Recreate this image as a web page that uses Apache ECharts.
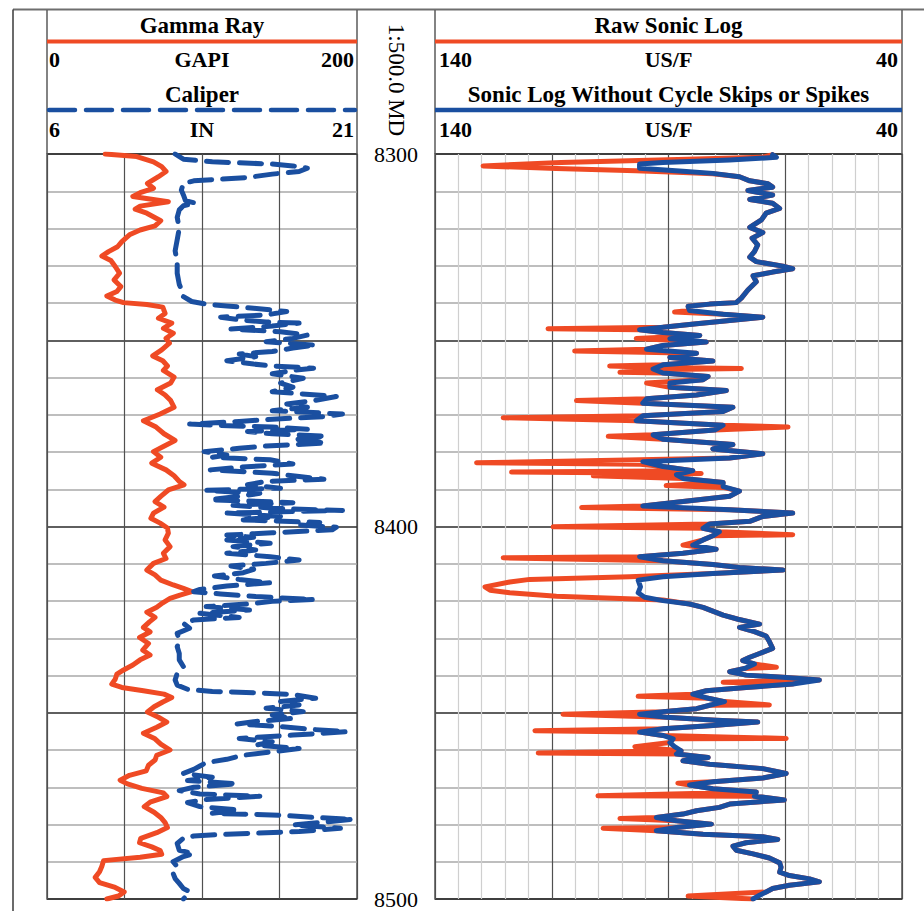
<!DOCTYPE html>
<html>
<head>
<meta charset="utf-8">
<script src="https://cdn.jsdelivr.net/npm/echarts/dist/echarts.min.js"></script>
<style>
html,body{margin:0;padding:0;background:#ffffff;}
#chart{width:924px;height:911px;}
</style>
</head>
<body>
<div id="chart"></div>
<script>
// ---------- data (depth in ft, value in curve units) ----------
const depthRange = [8300, 8500];
const depthLabels = [8300, 8400, 8500];
const gammaRayScale = [0, 200];
const caliperScale = [6, 21];
const sonicScale = [140, 40];

const trackTitles = ['Gamma Ray', 'Caliper', 'Raw Sonic Log', 'Sonic Log Without Cycle Skips or Spikes'];
const trackUnits = ['GAPI', 'IN', 'US/F', 'US/F'];
const depthTitle = '1:500.0 MD';

// [depth, GAPI]
const gammaRay = [
[8300.0,37.6],[8300.7,57.9],[8302.1,68.7],[8303.4,74.0],[8304.7,76.8],[8306.1,71.9],[8307.9,64.8],[8309.2,68.7],
[8310.4,60.1],[8311.4,55.4],[8312.8,78.3],[8314.0,60.1],[8314.8,56.9],[8315.9,64.4],[8317.9,73.4],[8319.3,69.7],
[8320.4,60.1],[8321.7,53.2],[8323.5,48.3],[8324.9,45.5],[8326.2,39.7],[8327.4,35.4],[8328.6,41.2],[8330.2,44.0],
[8332.0,46.8],[8333.8,43.3],[8335.6,47.6],[8336.9,45.1],[8338.1,38.6],[8339.2,44.0],[8339.9,49.4],[8340.4,64.4],
[8341.1,74.7],[8342.8,76.2],[8344.1,71.9],[8345.4,80.5],[8346.8,75.1],[8348.1,81.5],[8349.5,76.8],[8350.8,79.0],
[8352.6,74.0],[8354.2,68.2],[8355.5,74.7],[8356.9,77.7],[8358.1,75.1],[8359.9,82.0],[8361.5,79.8],[8363.3,71.2],
[8364.7,76.2],[8366.2,79.8],[8368.0,82.0],[8369.8,73.0],[8371.6,62.2],[8373.3,70.4],[8375.1,75.5],[8376.9,82.6],
[8378.5,75.1],[8379.9,68.7],[8381.4,73.4],[8383.0,67.6],[8384.8,76.8],[8386.4,82.0],[8387.9,85.4],[8388.8,88.4],
[8390.2,78.3],[8391.9,73.4],[8393.3,69.7],[8394.8,75.5],[8396.4,68.7],[8397.8,67.0],[8399.1,73.0],[8400.4,77.7],
[8401.8,78.3],[8403.6,76.2],[8405.4,79.4],[8407.2,75.1],[8408.6,76.8],[8409.9,68.7],[8411.7,64.4],[8413.0,69.7],
[8414.4,73.4],[8415.7,81.5],[8416.6,88.0],[8417.5,93.4],[8418.4,85.8],[8419.3,79.4],[8420.5,74.7],[8421.7,70.8],
[8423.0,64.4],[8424.4,69.7],[8425.6,66.1],[8427.1,62.2],[8428.3,66.5],[8429.8,59.7],[8431.4,65.5],[8433.2,61.8],
[8434.5,66.5],[8435.8,60.1],[8437.2,55.4],[8438.5,49.4],[8439.6,45.1],[8441.0,44.0],[8442.3,41.8],[8443.2,48.3],
[8444.1,62.2],[8445.0,75.5],[8445.9,80.5],[8447.1,74.7],[8448.4,69.1],[8449.8,64.8],[8451.2,71.9],[8452.5,77.3],
[8453.9,70.8],[8455.5,62.2],[8457.0,69.7],[8458.4,73.4],[8460.0,79.4],[8461.4,70.8],[8462.7,69.7],[8464.1,65.5],
[8465.6,64.0],[8466.8,53.2],[8468.1,47.2],[8469.1,51.9],[8470.3,61.2],[8471.5,75.1],[8472.5,77.3],[8474.0,66.5],
[8475.2,62.7],[8476.7,69.1],[8478.1,73.4],[8479.5,76.2],[8480.8,77.7],[8482.2,70.8],[8483.7,60.5],[8484.9,59.7],
[8486.0,67.6],[8487.0,73.0],[8488.0,74.0],[8488.8,60.1],[8489.7,36.5],[8491.2,35.4],[8492.7,33.9],[8494.2,31.1],
[8495.6,33.9],[8496.9,44.0],[8498.1,49.8],[8499.2,46.1],[8500.0,38.6]
];

// [depth, IN]
const caliper = [
[8300.0,12.2],[8301.4,12.6],[8302.1,14.0],[8302.7,16.9],[8303.2,17.9],[8303.8,18.6],[8304.7,18.2],[8305.4,16.9],
[8306.3,15.7],[8307.2,13.1],[8307.9,12.6],[8309.7,12.5],[8311.0,12.6],[8312.5,12.7],[8313.2,13.2],[8313.9,12.6],
[8315.0,12.4],[8317.0,12.3],[8320.0,12.4],[8323.0,12.3],[8326.0,12.2],[8329.0,12.3],[8332.0,12.3],[8335.0,12.4],
[8337.5,12.6],[8338.3,12.6],[8339.6,13.0],[8340.3,13.7],[8340.8,14.7],[8341.4,16.0],[8342.3,17.6],[8343.2,16.6],
[8343.8,14.4],[8344.5,15.3],[8345.1,16.6],[8345.4,18.2],[8346.2,16.9],[8347.0,14.9],[8347.7,17.3],[8348.6,18.6],
[8349.5,17.9],[8350.4,16.6],[8351.3,19.0],[8352.1,17.9],[8353.0,16.9],[8353.7,15.3],[8354.4,16.1],[8355.5,14.7],
[8356.4,16.0],[8356.9,16.9],[8357.5,18.9],[8358.1,17.9],[8359.0,16.9],[8360.2,18.4],[8361.5,17.3],[8362.6,17.9],
[8363.8,16.9],[8365.1,20.0],[8366.2,18.9],[8367.1,17.6],[8368.0,18.6],[8368.9,16.9],[8369.8,20.3],[8370.5,19.4],
[8371.2,16.9],[8371.8,15.3],[8372.5,12.9],[8372.8,14.0],[8373.3,16.9],[8373.9,18.6],[8374.5,15.7],[8375.1,16.9],
[8375.8,19.5],[8376.7,17.9],[8377.6,19.5],[8378.4,16.6],[8379.0,15.3],[8379.9,13.6],[8380.8,14.7],[8381.4,14.0],
[8382.1,16.8],[8383.2,17.9],[8384.1,15.3],[8384.8,13.9],[8385.7,16.9],[8386.6,18.2],[8387.3,19.4],[8387.9,16.6],
[8388.8,15.7],[8389.7,17.3],[8390.3,13.7],[8391.1,16.3],[8391.9,15.3],[8392.8,13.9],[8393.6,17.9],[8394.3,15.0],
[8395.1,16.9],[8395.7,20.3],[8396.4,14.7],[8397.3,17.3],[8398.2,15.3],[8398.9,19.2],[8399.6,18.2],[8400.2,20.0],
[8400.9,19.8],[8401.7,16.9],[8402.3,14.7],[8402.9,16.0],[8403.6,14.7],[8404.5,16.8],[8405.4,15.0],[8406.3,16.1],
[8407.2,14.7],[8408.1,16.8],[8409.0,18.2],[8409.9,16.6],[8410.6,14.9],[8411.5,16.0],[8412.4,15.5],[8413.3,14.1],
[8414.2,15.3],[8415.1,16.8],[8416.0,14.7],[8416.9,13.4],[8417.5,13.1],[8418.1,14.4],[8418.8,16.1],[8419.6,18.9],
[8420.1,16.9],[8420.8,15.7],[8421.5,13.7],[8422.4,15.8],[8423.3,13.4],[8424.4,15.3],[8425.1,13.1],[8426.0,12.6],
[8427.3,12.9],[8428.7,12.3],[8430.5,12.4],[8432.3,12.3],[8434.1,12.4],[8435.8,12.4],[8437.6,12.6],[8439.4,12.3],
[8441.2,12.2],[8442.6,12.3],[8443.7,12.8],[8444.3,14.0],[8444.6,16.0],[8445.1,17.9],[8446.1,19.0],[8447.0,17.3],
[8447.9,18.2],[8448.8,16.6],[8449.7,18.4],[8450.6,16.9],[8451.5,17.9],[8452.4,16.0],[8453.0,15.2],[8453.7,17.3],
[8454.5,18.9],[8455.1,20.5],[8456.0,17.9],[8456.9,15.3],[8457.8,16.9],[8458.7,16.1],[8459.6,18.2],[8460.5,16.9],
[8461.4,15.5],[8462.5,14.7],[8463.4,13.7],[8464.3,13.4],[8465.2,13.1],[8466.3,12.6],[8467.3,14.0],[8468.2,12.8],
[8469.1,15.2],[8470.0,13.1],[8470.9,12.4],[8471.8,13.4],[8472.4,16.3],[8473.3,13.7],[8474.1,12.8],[8475.2,13.4],
[8476.1,15.3],[8477.0,14.0],[8477.5,17.3],[8478.1,18.9],[8478.6,20.8],[8479.3,19.5],[8480.1,17.9],[8481.0,20.2],
[8481.9,18.2],[8482.6,14.7],[8483.1,13.1],[8483.7,12.6],[8485.1,12.3],[8486.9,12.4],[8487.8,13.1],[8488.6,12.6],
[8490.0,12.1],[8491.3,12.3],[8493.1,12.1],[8494.5,12.2],[8495.8,12.4],[8497.2,12.6],[8498.0,12.9],[8498.9,12.8],
[8500.0,12.6]
];

// [depth, US/F] raw sonic (with cycle skips / spikes)
const rawSonic = [
[8300.2,67.7],[8300.9,70.0],[8301.5,88.0],[8302.3,113.0],[8303.2,129.7],[8303.9,114.0],[8304.5,97.0],[8305.0,86.9],
[8305.3,80.5],[8306.1,74.8],[8307.2,72.6],[8308.0,68.7],[8308.9,67.7],[8309.8,73.0],[8311.0,67.7],[8312.2,72.6],
[8313.2,67.7],[8314.6,66.2],[8315.9,69.1],[8317.7,70.1],[8319.7,72.6],[8321.1,69.8],[8322.6,72.1],[8324.4,70.9],
[8326.2,71.6],[8327.7,72.6],[8328.9,71.2],[8330.1,65.5],[8330.8,63.4],[8331.7,67.7],[8332.7,71.9],[8334.3,71.2],
[8336.5,73.0],[8338.7,74.4],[8339.9,75.5],[8340.3,81.2],[8340.9,85.8],[8342.0,85.5],[8342.4,88.7],[8343.0,78.3],
[8343.8,69.8],[8344.7,76.9],[8345.6,84.0],[8346.5,91.2],[8346.9,115.8],[8347.2,96.2],[8347.9,91.2],[8348.7,83.3],
[8349.5,96.9],[8350.5,81.9],[8351.4,91.2],[8352.4,94.7],[8352.9,110.1],[8353.5,84.0],[8354.6,89.7],[8355.6,80.5],
[8356.6,91.2],[8356.9,102.6],[8357.3,92.0],[8357.6,74.4],[8357.9,93.3],[8358.6,100.4],[8358.8,91.2],[8359.7,81.5],
[8360.6,82.6],[8361.5,94.7],[8362.6,89.7],[8363.5,77.6],[8364.7,84.0],[8365.7,94.7],[8366.2,109.7],[8366.9,95.5],
[8368.0,76.2],[8369.1,78.3],[8370.3,95.5],[8370.8,125.4],[8371.6,96.9],[8372.8,78.3],[8373.3,64.4],[8374.1,80.1],
[8375.4,93.3],[8375.8,102.9],[8376.6,91.2],[8378.0,76.2],[8379.2,80.5],[8380.5,69.8],[8381.6,76.9],[8382.4,110.0],
[8382.9,131.1],[8383.3,96.0],[8383.9,91.2],[8385.0,84.8],[8385.4,123.6],[8385.8,83.0],[8386.4,106.1],[8387.1,86.9],
[8388.2,78.3],[8389.0,90.5],[8389.5,78.3],[8390.5,74.8],[8391.9,76.9],[8393.3,86.9],[8394.5,95.5],[8394.9,108.6],
[8395.5,76.9],[8396.4,63.4],[8397.3,69.8],[8398.6,72.6],[8399.3,81.2],[8400.1,114.7],[8400.5,82.6],[8401.4,79.1],
[8402.2,63.4],[8402.5,80.5],[8403.6,82.6],[8405.0,86.9],[8406.1,79.8],[8407.2,86.9],[8408.1,96.2],[8408.4,125.4],
[8409.2,91.2],[8410.2,80.5],[8411.0,74.8],[8411.7,65.5],[8412.6,80.5],[8413.5,98.3],[8414.2,119.7],[8414.9,124.0],
[8416.2,129.3],[8417.1,128.2],[8417.8,124.0],[8418.7,114.0],[8419.7,91.2],[8420.8,85.5],[8421.7,82.6],[8422.6,80.8],
[8423.8,78.3],[8424.9,75.1],[8426.2,70.5],[8427.1,74.8],[8428.2,71.6],[8429.4,69.1],[8430.9,68.4],[8432.7,67.7],
[8434.1,70.5],[8435.1,72.6],[8436.0,74.1],[8436.9,71.6],[8437.8,66.9],[8438.1,73.7],[8439.0,76.9],[8439.9,73.4],
[8440.5,65.5],[8441.2,57.7],[8441.8,78.3],[8442.3,63.4],[8443.2,73.4],[8444.1,81.9],[8445.0,84.8],[8445.6,96.5],
[8446.1,81.5],[8447.0,78.0],[8447.9,68.4],[8448.0,81.2],[8448.9,84.0],[8449.7,91.2],[8450.4,112.6],[8451.2,90.5],
[8452.0,79.8],[8452.5,70.9],[8453.4,80.5],[8454.3,91.2],[8454.8,118.6],[8455.2,96.2],[8456.1,91.2],[8456.9,64.8],
[8457.0,89.0],[8458.0,89.7],[8459.1,97.2],[8460.2,87.3],[8460.8,117.9],[8461.1,88.3],[8462.0,81.5],[8462.9,86.9],
[8463.8,81.2],[8465.0,69.8],[8466.3,64.8],[8467.5,69.8],[8468.5,80.5],[8468.9,88.0],[8469.4,85.5],[8470.4,80.5],
[8471.3,71.2],[8472.3,105.1],[8472.4,71.6],[8473.4,65.2],[8474.5,76.9],[8475.4,79.1],[8476.3,84.0],[8477.2,86.9],
[8478.1,92.6],[8478.4,100.4],[8479.0,88.3],[8479.9,80.8],[8480.8,88.3],[8481.0,104.0],[8481.7,92.6],[8482.6,82.6],
[8483.3,69.8],[8484.0,66.6],[8484.9,73.4],[8485.8,76.2],[8486.9,75.5],[8487.9,71.9],[8489.0,68.4],[8490.3,66.2],
[8491.5,65.9],[8492.8,66.2],[8493.7,64.1],[8494.6,59.8],[8495.4,57.7],[8496.3,64.1],[8497.2,67.7],[8498.1,69.1],
[8499.2,85.8],[8499.6,79.0],[8500.0,71.9]
];

// [depth, US/F] sonic without cycle skips or spikes
const cleanSonic = [
[8300.2,67.7],[8300.9,66.9],[8301.6,76.9],[8302.3,91.2],[8302.7,96.2],[8303.8,96.2],[8304.6,86.9],[8305.2,80.5],
[8306.1,74.8],[8307.2,72.6],[8308.0,68.7],[8308.9,67.7],[8309.8,73.0],[8311.0,67.7],[8312.2,72.6],[8313.2,67.7],
[8314.6,66.2],[8315.9,69.1],[8317.7,70.1],[8319.7,72.6],[8321.1,69.8],[8322.6,72.1],[8324.4,70.9],[8326.2,71.6],
[8327.7,72.6],[8328.9,71.2],[8330.1,65.5],[8330.8,63.4],[8331.7,67.7],[8332.7,71.9],[8334.3,71.2],[8336.5,73.0],
[8338.7,74.4],[8339.9,75.5],[8340.3,81.2],[8340.9,85.8],[8342.0,85.5],[8343.0,78.3],[8343.8,69.8],[8344.7,76.9],
[8345.6,84.0],[8346.5,91.2],[8347.2,96.2],[8347.9,91.2],[8348.7,83.3],[8349.6,89.7],[8350.5,81.9],[8351.4,91.2],
[8352.4,94.7],[8353.5,84.0],[8354.6,89.7],[8355.6,80.5],[8356.6,91.2],[8357.7,93.3],[8358.8,91.2],[8359.7,81.5],
[8360.6,82.6],[8361.5,89.7],[8362.6,89.7],[8363.5,77.6],[8364.7,84.0],[8365.7,94.7],[8366.9,95.5],[8368.0,76.2],
[8369.1,78.3],[8370.3,95.5],[8371.6,96.9],[8372.8,78.3],[8374.1,80.1],[8375.4,93.3],[8376.6,91.2],[8378.0,76.2],
[8379.2,80.5],[8380.5,69.8],[8381.6,76.9],[8382.6,95.5],[8383.9,91.2],[8385.0,84.8],[8386.1,88.3],[8387.1,86.9],
[8388.2,78.3],[8389.3,78.3],[8390.5,74.8],[8391.9,76.9],[8393.3,86.9],[8394.5,95.5],[8395.5,76.9],[8396.4,63.4],
[8397.3,69.8],[8398.6,72.6],[8399.3,81.2],[8400.5,82.6],[8401.4,79.1],[8402.5,80.5],[8403.6,82.6],[8405.0,84.8],
[8406.1,79.8],[8407.2,86.9],[8408.1,96.2],[8409.2,91.2],[8410.2,80.5],[8411.0,74.8],[8411.7,65.5],[8412.6,80.5],
[8413.5,91.2],[8414.4,96.5],[8416.2,96.0],[8417.8,96.5],[8419.0,95.1],[8419.9,91.2],[8420.8,85.5],[8421.7,82.6],
[8422.6,80.8],[8423.8,78.3],[8424.9,75.1],[8426.2,70.5],[8427.1,74.8],[8428.2,71.6],[8429.4,69.1],[8430.9,68.4],
[8432.7,67.7],[8434.1,70.5],[8435.1,72.6],[8436.0,74.1],[8436.9,71.6],[8438.1,73.7],[8439.0,76.9],[8439.9,73.4],
[8440.5,65.5],[8441.2,57.7],[8442.3,63.4],[8443.2,73.4],[8444.1,81.9],[8445.0,84.8],[8446.1,81.5],[8447.0,78.0],
[8448.0,81.2],[8448.9,84.0],[8449.7,91.2],[8450.4,96.2],[8451.2,90.5],[8452.0,79.8],[8452.5,70.9],[8453.4,80.5],
[8454.3,91.2],[8455.2,96.2],[8456.1,91.2],[8457.0,89.0],[8458.0,89.7],[8459.1,88.7],[8460.2,87.3],[8461.1,88.3],
[8462.0,81.5],[8462.9,86.9],[8463.8,81.2],[8465.0,69.8],[8466.3,64.8],[8467.5,69.8],[8468.5,80.5],[8469.4,85.5],
[8470.4,80.5],[8471.3,71.2],[8472.4,71.6],[8473.4,65.2],[8474.5,76.9],[8475.4,79.1],[8476.3,84.0],[8477.2,86.9],
[8478.1,92.6],[8479.0,88.3],[8479.9,80.8],[8480.8,88.3],[8481.7,92.6],[8482.6,82.6],[8483.3,69.8],[8484.0,66.6],
[8484.9,73.4],[8485.8,76.2],[8486.9,75.5],[8487.9,71.9],[8489.0,68.4],[8490.3,66.2],[8491.5,65.9],[8492.8,66.2],
[8493.7,64.1],[8494.6,59.8],[8495.4,57.7],[8496.3,64.1],[8497.2,67.7],[8498.1,69.1],[8499.0,70.5],[8500.0,71.9]
];

// ---------- styling ----------
const RED = '#EF4A24';
const BLUE = '#1A4FA0';
const SERIF = '"Liberation Serif", "Times New Roman", serif';
const L = {left: 47, right: 357};
const R = {left: 435, right: 902};
const TOP = 154, BOTTOM = 899;

const chart = echarts.init(document.getElementById('chart'), null, {renderer: 'svg'});

function depthYAxis(gridIndex, showLabels) {
  return {
    gridIndex: gridIndex, type: 'value', min: depthRange[0], max: depthRange[1], inverse: true,
    interval: 50,
    axisLine: {show: false}, axisTick: {show: false},
    axisLabel: {
      show: showLabels, margin: 39, align: 'center', color: '#000',
      fontFamily: SERIF, fontSize: 22, showMinLabel: true, showMaxLabel: true, hideOverlap: false,
      formatter: function (v) { return depthLabels.indexOf(v) >= 0 ? String(v) : ''; }
    },
    splitLine: {show: true, lineStyle: {color: '#2a2a2a', width: 1.5}},
    minorTick: {show: false, splitNumber: 5},
    minorSplitLine: {show: true, lineStyle: {color: '#a8a8a8', width: 1.5}}
  };
}

const hidden = {axisLine: {show: false}, axisTick: {show: false}, axisLabel: {show: false}};

const graphic = [];
function line(x1, y1, x2, y2, stroke, w, dash) {
  const s = {stroke: stroke, lineWidth: w};
  if (dash) { s.lineDash = dash; s.lineCap = 'round'; }
  graphic.push({type: 'line', silent: true, shape: {x1: x1, y1: y1, x2: x2, y2: y2}, style: s, z: 10});
}
function text(str, x, y, align, bold, size, rot) {
  const g = {type: 'text', silent: true, x: x, y: y, z: 10,
    style: {text: str, font: (bold ? 'bold ' : '') + size + 'px ' + SERIF, fill: '#000',
      align: align, verticalAlign: 'middle'}};
  if (rot) g.rotation = rot;
  graphic.push(g);
}
// frame
line(13, 9.5, 924, 9.5, '#6e6e6e', 2);
line(13, 9.5, 13, 911, '#3a3a3a', 1.5);
[L.left, L.right, R.left, R.right].forEach(function (x) { line(x, 10, x, TOP, '#5a5a5a', 1.5); });
// left header
text(trackTitles[0], (L.left + L.right) / 2, 25.5, 'center', true, 23);
line(L.left, 41.5, L.right, 41.5, RED, 4);
text(String(gammaRayScale[0]), L.left + 2, 59, 'left', true, 22);
text(trackUnits[0], (L.left + L.right) / 2, 59, 'center', true, 22);
text(String(gammaRayScale[1]), L.right - 3, 59, 'right', true, 22);
text(trackTitles[1], (L.left + L.right) / 2, 94, 'center', true, 23);
line(L.left + 2, 110, L.right - 2, 110, BLUE, 4.5, [26, 11]);
text(String(caliperScale[0]), L.left + 2, 129, 'left', true, 22);
text(trackUnits[1], (L.left + L.right) / 2, 129, 'center', true, 22);
text(String(caliperScale[1]), L.right - 3, 129, 'right', true, 22);
// right header
text(trackTitles[2], (R.left + R.right) / 2, 25.5, 'center', true, 23);
line(R.left, 41.5, R.right, 41.5, RED, 4);
text(String(sonicScale[0]), R.left + 4, 59, 'left', true, 22);
text(trackUnits[2], (R.left + R.right) / 2, 59, 'center', true, 22);
text(String(sonicScale[1]), R.right - 4, 59, 'right', true, 22);
text(trackTitles[3], (R.left + R.right) / 2, 94, 'center', true, 23);
line(R.left, 110, R.right, 110, BLUE, 4.5);
text(String(sonicScale[0]), R.left + 4, 129, 'left', true, 22);
text(trackUnits[3], (R.left + R.right) / 2, 129, 'center', true, 22);
text(String(sonicScale[1]), R.right - 4, 129, 'right', true, 22);
// depth column title
text(depthTitle, 396, 80, 'center', false, 23, -Math.PI / 2);

function swap(arr) { return arr.map(function (p) { return [p[1], p[0]]; }); }

const option = {
  animation: false,
  backgroundColor: '#ffffff',
  grid: [
    {left: L.left, top: TOP, width: L.right - L.left, height: BOTTOM - TOP, show: true,
     borderColor: '#555', borderWidth: 1.5, containLabel: false},
    {left: R.left, top: TOP, width: R.right - R.left, height: BOTTOM - TOP, show: true,
     borderColor: '#555', borderWidth: 1.5, containLabel: false}
  ],
  xAxis: [
    Object.assign({gridIndex: 0, type: 'value', min: gammaRayScale[0], max: gammaRayScale[1], interval: 50, position: 'top',
      splitLine: {show: true, lineStyle: {color: '#505050', width: 1.2}}}, hidden),
    {gridIndex: 0, type: 'value', min: caliperScale[0], max: caliperScale[1], show: false, splitLine: {show: false}},
    Object.assign({gridIndex: 1, type: 'value', min: 0, max: 100, interval: 25, position: 'top',
      splitLine: {show: true, lineStyle: {color: '#505050', width: 1.2}},
      minorTick: {show: false, splitNumber: 5},
      minorSplitLine: {show: true, lineStyle: {color: '#cfcfcf', width: 1.2}}}, hidden),
    {gridIndex: 1, type: 'value', min: sonicScale[1], max: sonicScale[0], inverse: true, show: false, splitLine: {show: false}}
  ],
  yAxis: [depthYAxis(0, false), depthYAxis(1, true)],
  graphic: graphic,
  series: [
    {name: trackTitles[0], type: 'line', xAxisIndex: 0, yAxisIndex: 0, data: swap(gammaRay),
     showSymbol: false, symbol: 'none', silent: true, z: 3,
     lineStyle: {color: RED, width: 5, cap: 'round', join: 'round'}},
    {name: trackTitles[1], type: 'line', xAxisIndex: 1, yAxisIndex: 0, data: swap(caliper),
     showSymbol: false, symbol: 'none', silent: true, z: 4,
     lineStyle: {color: BLUE, width: 5, type: [22, 11], cap: 'round', join: 'round'}},
    {name: trackTitles[2], type: 'line', xAxisIndex: 3, yAxisIndex: 1, data: swap(rawSonic),
     showSymbol: false, symbol: 'none', silent: true, z: 3,
     lineStyle: {color: RED, width: 5, cap: 'round', join: 'round'}},
    {name: trackTitles[3], type: 'line', xAxisIndex: 3, yAxisIndex: 1, data: swap(cleanSonic),
     showSymbol: false, symbol: 'none', silent: true, z: 4,
     lineStyle: {color: BLUE, width: 5, cap: 'round', join: 'round'}}
  ]
};
chart.setOption(option);
</script>
</body>
</html>
